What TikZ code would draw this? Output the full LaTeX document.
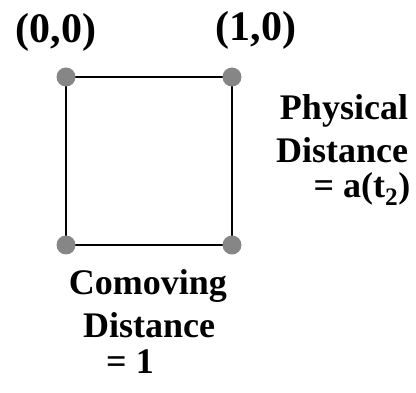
\documentclass[tikz,border=0pt]{standalone}
\usepackage{fontspec}
\setmainfont{Liberation Serif}
\begin{document}
\begin{tikzpicture}[x=1pt,y=-1pt,
  dot/.style={circle,fill=gray!95,inner sep=0pt,minimum size=19pt},
  edge/.style={line width=2.8pt,black},
  coordlbl/.style={font=\fontsize{42}{44}\selectfont\bfseries,inner sep=0pt},
  lbl/.style={font=\fontsize{36}{38}\selectfont\bfseries,inner sep=0pt}]
\useasboundingbox (0,0) rectangle (416,393);
\coordinate (p00) at (66,77);
\coordinate (p10) at (232,77);
\coordinate (p01) at (66,245);
\coordinate (p11) at (232,245);
\draw[edge] (p00) -- (p10) -- (p11) -- (p01) -- cycle;
\node[dot] (d00) at (p00) {};
\node[dot] (d10) at (p10) {};
\node[dot] (d01) at (p01) {};
\node[dot] (d11) at (p11) {};
\node[coordlbl] (l00) at (56,32) {(0,0)};
\node[coordlbl] (l10) at (256,30) {(1,0)};
\node[lbl] (ph1) at (344,111) {Physical};
\node[lbl] (ph2) at (342,150) {Distance};
\node[lbl] (ph3) at (362,189) {= a(t\textsubscript{2})};
\node[lbl] (cm1) at (148,286) {Comoving};
\node[lbl] (cm2) at (149,325) {Distance};
\node[lbl] (cm3) at (130,362) {= 1};
\end{tikzpicture}
\end{document}
